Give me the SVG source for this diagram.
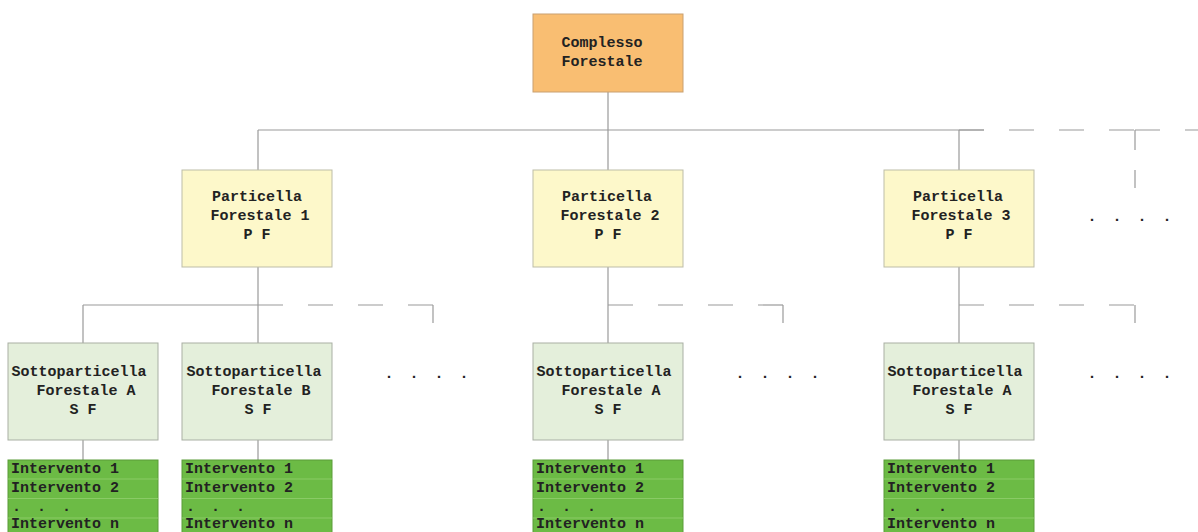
<svg xmlns="http://www.w3.org/2000/svg" width="1198" height="532" viewBox="0 0 1198 532">
<style>
.t{font-family:"Liberation Mono","Courier New",monospace;font-weight:bold;font-size:15px;fill:#222}
.c{text-anchor:middle}
.ln{stroke:#9a9a9a;stroke-width:1.2;fill:none}
.ds{stroke:#9a9a9a;stroke-width:1.2;fill:none;stroke-dasharray:25 25}
.top{fill:#F9BE72;stroke:#C9A070;stroke-width:1}
.pf{fill:#FDF8CA;stroke:#BDBDA8;stroke-width:1}
.sf{fill:#E4EFDB;stroke:#A9AFA4;stroke-width:1}
.gr{fill:#6CBB45;stroke:#5A9C38;stroke-width:1}
.sep{stroke:#8ACB66;stroke-width:1}
.dot{font-family:"Liberation Mono",monospace;font-weight:bold;font-size:15px;fill:#222;text-anchor:middle}
</style>
<rect width="1198" height="532" fill="#ffffff"/>
<g id="connectors">
<path class="ln" d="M608 92V130M258 130H984M258 130V170M608 130V170M959 130V170"/>
<path class="ds" d="M959 130H1135"/>
<path class="ln" d="M1135 130H1160M1185 130H1198"/>
<path class="ln" d="M1135 130V150M1135 170V188"/>
<path class="ln" d="M258 267V343M83 305H258V305M83 305V343"/>
<path class="ds" d="M258 305H433"/>
<path class="ln" d="M433 305V323"/>
<path class="ln" d="M608 267V343"/>
<path class="ds" d="M608 305H783"/>
<path class="ln" d="M783 305V323"/>
<path class="ln" d="M959 267V343"/>
<path class="ds" d="M959 305H1135"/>
<path class="ln" d="M1135 305V323"/>
<path class="ln" d="M83 440V460M258 440V460M608 440V460M959 440V460"/>
</g>
<g id="complesso">
<rect class="top" x="533" y="14" width="150" height="78"/>
<text class="t c" x="602" y="47">Complesso</text>
<text class="t c" x="602" y="66">Forestale</text>
</g>
<g id="pf1">
<rect class="pf" x="182" y="170" width="150" height="97"/>
<text class="t c" x="257" y="201">Particella</text>
<text class="t c" x="260" y="220">Forestale 1</text>
<text class="t c" x="257" y="239">P F</text>
</g>
<g id="pf2">
<rect class="pf" x="533" y="170" width="150" height="97"/>
<text class="t c" x="607" y="201">Particella</text>
<text class="t c" x="610" y="220">Forestale 2</text>
<text class="t c" x="608" y="239">P F</text>
</g>
<g id="pf3">
<rect class="pf" x="884" y="170" width="150" height="97"/>
<text class="t c" x="958" y="201">Particella</text>
<text class="t c" x="961" y="220">Forestale 3</text>
<text class="t c" x="959" y="239">P F</text>
</g>
<g id="dots-pf">
<text class="dot" x="1092" y="221">.</text><text class="dot" x="1117" y="221">.</text><text class="dot" x="1142" y="221">.</text><text class="dot" x="1167" y="221">.</text>
</g>
<g id="sf1a">
<rect class="sf" x="8" y="343" width="150" height="97"/>
<text class="t c" x="79" y="376">Sottoparticella</text>
<text class="t c" x="86" y="395">Forestale A</text>
<text class="t c" x="83" y="414">S F</text>
</g>
<g id="sf1b">
<rect class="sf" x="182" y="343" width="150" height="97"/>
<text class="t c" x="254" y="376">Sottoparticella</text>
<text class="t c" x="261" y="395">Forestale B</text>
<text class="t c" x="258" y="414">S F</text>
</g>
<g id="sf2a">
<rect class="sf" x="533" y="343" width="150" height="97"/>
<text class="t c" x="604" y="376">Sottoparticella</text>
<text class="t c" x="611" y="395">Forestale A</text>
<text class="t c" x="608" y="414">S F</text>
</g>
<g id="sf3a">
<rect class="sf" x="884" y="343" width="150" height="97"/>
<text class="t c" x="955" y="376">Sottoparticella</text>
<text class="t c" x="962" y="395">Forestale A</text>
<text class="t c" x="959" y="414">S F</text>
</g>
<g id="dots-sf">
<text class="dot" x="389" y="378">.</text><text class="dot" x="414" y="378">.</text><text class="dot" x="439" y="378">.</text><text class="dot" x="464" y="378">.</text>
<text class="dot" x="740" y="378">.</text><text class="dot" x="765" y="378">.</text><text class="dot" x="790" y="378">.</text><text class="dot" x="815" y="378">.</text>
<text class="dot" x="1092" y="378">.</text><text class="dot" x="1117" y="378">.</text><text class="dot" x="1142" y="378">.</text><text class="dot" x="1167" y="378">.</text>
</g>
<g id="int1a">
<rect class="gr" x="8" y="460" width="150" height="80"/>
<path class="sep" d="M8 479H158M8 498.5H158M8 518H158"/>
<text class="t" x="11" y="473">Intervento 1</text>
<text class="t" x="11" y="492">Intervento 2</text>
<text class="t" x="12 24.5 37 49.5 62" y="511">. . .</text>
<text class="t" x="11" y="528">Intervento n</text>
</g>
<g id="int1b">
<rect class="gr" x="182" y="460" width="150" height="80"/>
<path class="sep" d="M182 479H332M182 498.5H332M182 518H332"/>
<text class="t" x="185" y="473">Intervento 1</text>
<text class="t" x="185" y="492">Intervento 2</text>
<text class="t" x="186 198.5 211 223.5 236" y="511">. . .</text>
<text class="t" x="185" y="528">Intervento n</text>
</g>
<g id="int2a">
<rect class="gr" x="533" y="460" width="150" height="80"/>
<path class="sep" d="M533 479H683M533 498.5H683M533 518H683"/>
<text class="t" x="536" y="473">Intervento 1</text>
<text class="t" x="536" y="492">Intervento 2</text>
<text class="t" x="537 549.5 562 574.5 587" y="511">. . .</text>
<text class="t" x="536" y="528">Intervento n</text>
</g>
<g id="int3a">
<rect class="gr" x="884" y="460" width="150" height="80"/>
<path class="sep" d="M884 479H1034M884 498.5H1034M884 518H1034"/>
<text class="t" x="887" y="473">Intervento 1</text>
<text class="t" x="887" y="492">Intervento 2</text>
<text class="t" x="888 900.5 913 925.5 938" y="511">. . .</text>
<text class="t" x="887" y="528">Intervento n</text>
</g>
</svg>
